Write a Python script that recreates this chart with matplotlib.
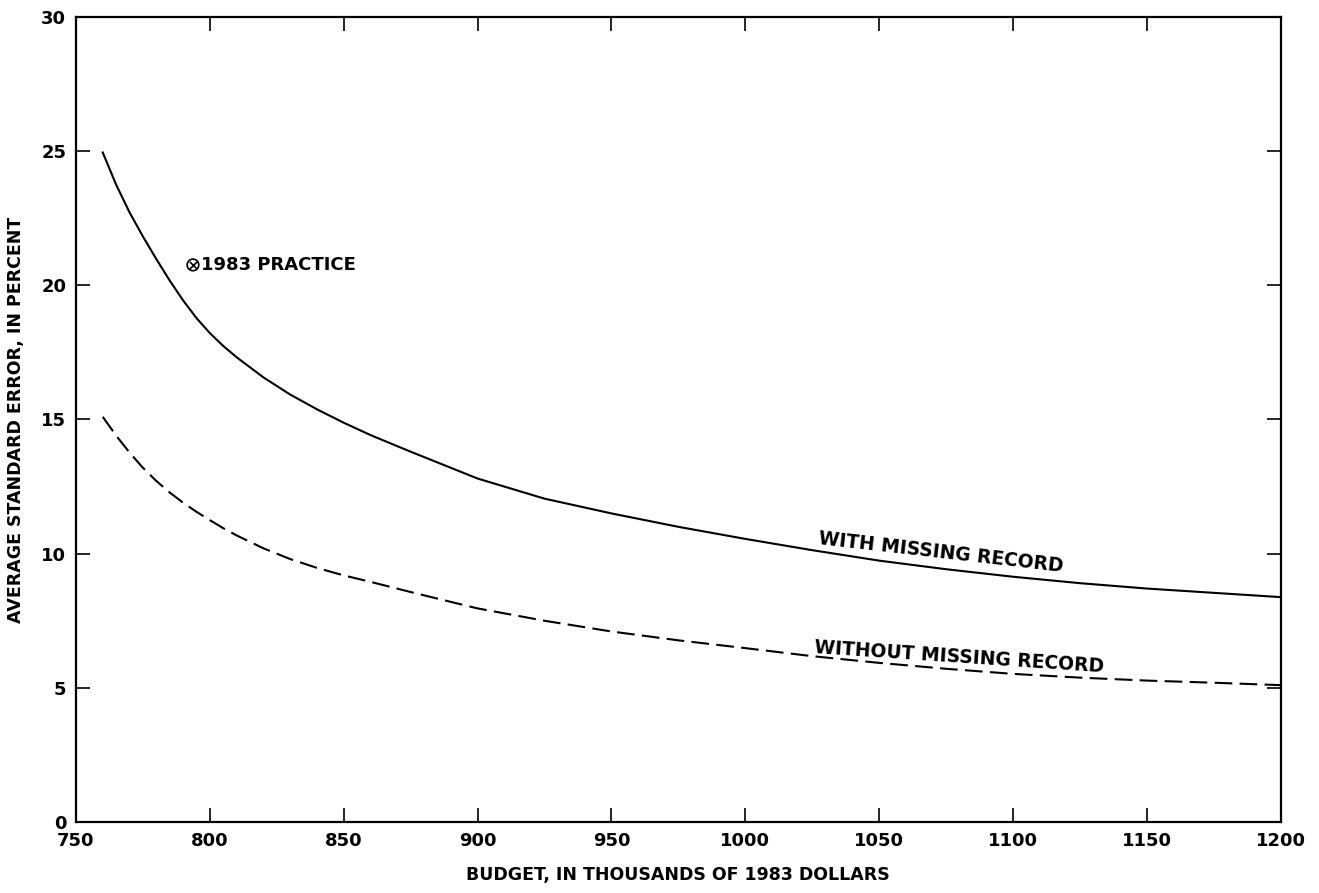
import numpy as np
import matplotlib
matplotlib.use("Agg")
import matplotlib.pyplot as plt

# ------------------------------------------------------------
# data
# ------------------------------------------------------------
budget = [760, 765, 770, 775, 780, 785, 790, 795, 800, 805, 810, 820, 830,
          840, 850, 860, 875, 900, 925, 950, 975, 1000, 1025, 1050, 1075,
          1100, 1125, 1150, 1175, 1200]

with_missing = [24.95, 23.75, 22.72, 21.82, 20.98, 20.18, 19.44, 18.78,
                18.22, 17.74, 17.32, 16.57, 15.93, 15.38, 14.88, 14.42, 13.8,
                12.8, 12.05, 11.5, 11.0, 10.55, 10.13, 9.74, 9.42, 9.14, 8.9,
                8.7, 8.54, 8.38]

without_missing = [15.1, 14.4, 13.77, 13.2, 12.71, 12.28, 11.9, 11.56,
                   11.25, 10.95, 10.68, 10.2, 9.8, 9.47, 9.19, 8.95, 8.57,
                   7.96, 7.5, 7.1, 6.77, 6.48, 6.18, 5.93, 5.71, 5.52, 5.38,
                   5.27, 5.19, 5.1]

practice_budget = [793.7]
practice_error = [20.76]

x_ticks = [750, 800, 850, 900, 950, 1000, 1050, 1100, 1150, 1200]
y_ticks = [0, 5, 10, 15, 20, 25, 30]

# ------------------------------------------------------------
# figure
# ------------------------------------------------------------
plt.rcParams["font.family"] = ["DejaVu Sans"]
plt.rcParams["font.weight"] = "bold"

fig = plt.figure(figsize=(13.19, 8.93), dpi=100)
ax = fig.add_axes([0.0576, 0.0795, 0.9134, 0.9015])

ax.plot(budget, with_missing, color="black", linewidth=1.5)
ax.plot(budget, without_missing, color="black", linewidth=1.5,
        linestyle=(0, (8.5, 3.5)))

# 1983 practice point
ax.scatter(practice_budget, practice_error, s=70, facecolors="none",
           edgecolors="black", linewidths=1.2, zorder=5)
ax.scatter(practice_budget, practice_error, s=28, marker="x",
           color="black", linewidths=1.2, zorder=5)
ax.annotate("1983 PRACTICE", (practice_budget[0], practice_error[0]),
            xytext=(6, 0), textcoords="offset points",
            ha="left", va="center", fontsize=13)

ax.text(1073, 10.05, "WITH MISSING RECORD", rotation=-6.5,
        rotation_mode="anchor", ha="center", va="center", fontsize=13.5)
ax.text(1080, 6.15, "WITHOUT MISSING RECORD", rotation=-3.8,
        rotation_mode="anchor", ha="center", va="center", fontsize=13.5)

ax.set_xlim(750, 1200)
ax.set_ylim(0, 30)
ax.set_xticks(x_ticks)
ax.set_yticks(y_ticks)
ax.tick_params(direction="in", length=10, width=1.2, top=True, right=True,
               labelsize=13, pad=7)
for sp in ax.spines.values():
    sp.set_linewidth(1.6)

ax.set_xlabel("BUDGET, IN THOUSANDS OF 1983 DOLLARS", fontsize=12.5,
              fontweight="bold", labelpad=12)
ax.set_ylabel("AVERAGE STANDARD ERROR, IN PERCENT", fontsize=12.5,
              fontweight="bold", labelpad=12)

fig.savefig("out.png", dpi=100)
plt.close(fig)
